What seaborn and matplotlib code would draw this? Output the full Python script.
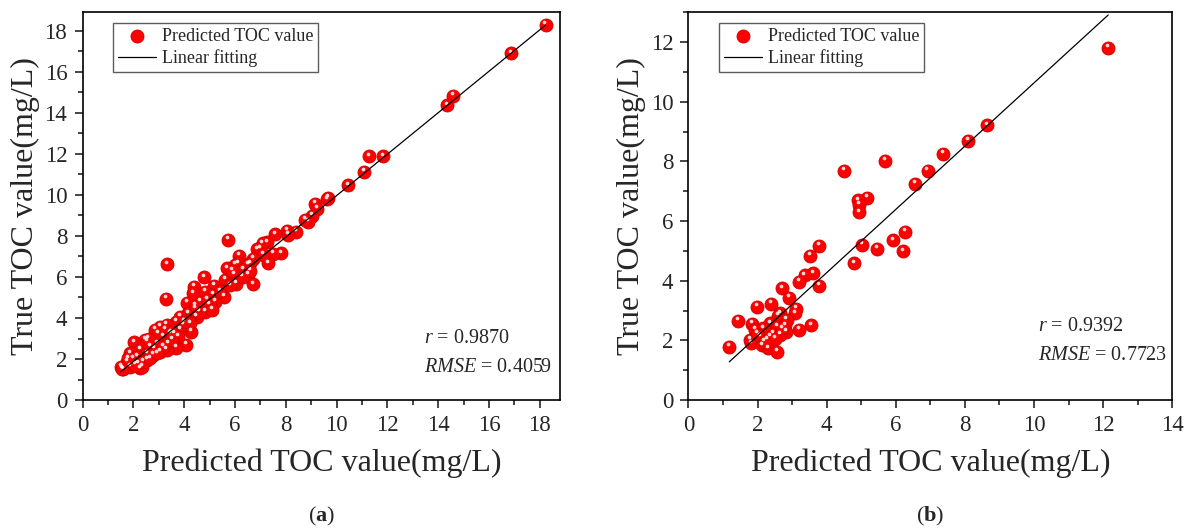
import matplotlib
matplotlib.use('Agg')
import matplotlib.pyplot as plt
import matplotlib.transforms as mtransforms
from matplotlib.ticker import MultipleLocator
import numpy as np
import pandas as pd
import seaborn as sns

# ---- data ----
pred_a = [18.23, 16.87, 14.60, 14.34, 11.82, 11.28, 11.10, 10.47, 9.68, 9.61,
          9.17, 9.25, 9.02, 8.89, 8.76, 8.41, 8.06, 8.10, 7.59, 5.73,
          7.28, 7.09, 6.86, 6.99, 7.82, 7.51, 7.32, 7.12, 6.73, 6.60,
          6.18, 6.14, 6.00, 5.69, 6.33, 6.53, 6.70, 6.04, 5.98, 5.61,
          5.57, 3.34, 3.29, 4.80, 5.19, 4.39, 4.36, 4.82, 5.15, 5.22,
          5.00, 4.63, 4.10, 4.43, 4.82, 4.17, 3.84, 4.49, 4.27, 4.23,
          4.08, 3.67, 3.62, 3.67, 3.31, 3.05, 2.85, 3.16, 3.38, 2.46,
          2.04, 2.82, 2.26, 2.53, 1.87, 2.00, 1.74, 1.50, 1.61, 1.87,
          2.26, 2.20, 2.53, 3.05, 3.31, 2.66, 2.92, 1.55, 2.33, 3.45,
          3.84, 3.97, 3.77, 3.18, 2.79, 2.53, 2.99, 3.51, 3.25, 2.60,
          2.13, 1.80, 2.07, 2.40, 2.66, 2.92, 4.60, 4.90, 5.40, 5.80,
          6.30, 6.50, 5.10, 4.00, 3.50, 4.45, 5.90, 6.60]
true_a = [18.28, 16.89, 14.83, 14.36, 11.87, 11.87, 11.11, 10.46, 9.87, 9.79,
          9.56, 9.32, 8.99, 8.70, 8.78, 8.21, 8.24, 8.05, 8.08, 7.80,
          7.69, 7.64, 7.35, 7.40, 7.15, 7.12, 6.67, 7.07, 6.88, 6.67,
          7.02, 6.67, 6.59, 6.42, 6.34, 6.10, 5.64, 5.66, 6.10, 5.85,
          5.04, 6.62, 4.93, 5.98, 5.58, 5.53, 5.20, 5.28, 5.12, 4.80,
          4.63, 4.80, 4.75, 4.47, 4.31, 4.23, 4.07, 4.07, 3.33, 3.74,
          2.68, 3.82, 3.25, 2.55, 3.66, 3.58, 3.41, 3.09, 2.76, 2.93,
          2.81, 2.52, 2.44, 2.28, 2.28, 2.03, 1.87, 1.63, 1.50, 1.63,
          1.54, 1.79, 1.95, 2.36, 2.44, 2.60, 2.76, 1.52, 1.63, 3.25,
          3.41, 3.66, 3.09, 2.60, 2.20, 2.85, 3.25, 2.93, 3.41, 3.00,
          2.11, 2.03, 1.71, 1.87, 2.03, 2.28, 4.30, 4.90, 5.30, 5.60,
          6.00, 6.60, 4.40, 3.80, 3.30, 4.60, 6.30, 6.30]

pred_b = [12.15, 8.64, 8.08, 7.37, 6.92, 6.57, 5.69, 4.49, 5.16, 4.91,
          4.94, 4.93, 6.28, 5.93, 6.22, 5.46, 5.02, 4.80, 3.77, 3.53,
          3.60, 3.36, 3.21, 3.77, 2.72, 2.92, 1.99, 2.40, 3.12, 3.09,
          2.65, 2.60, 1.43, 1.83, 3.56, 3.21, 2.84, 2.80, 2.83, 2.36,
          2.17, 1.93, 2.56, 2.46, 2.65, 2.07, 1.78, 1.81, 2.12, 2.31,
          2.57, 1.18, 2.27, 1.98, 2.36, 2.50, 2.70, 2.20]
true_b = [11.81, 9.21, 8.69, 8.25, 7.69, 7.24, 8.01, 7.68, 6.78, 6.70,
          6.54, 6.29, 5.64, 5.36, 4.99, 5.06, 5.20, 4.58, 5.16, 4.83,
          4.25, 4.18, 3.97, 3.84, 3.75, 3.43, 3.13, 3.23, 3.05, 2.91,
          2.91, 2.82, 2.66, 2.56, 2.50, 2.35, 2.70, 2.51, 2.29, 2.57,
          2.40, 2.35, 2.46, 2.23, 2.18, 2.12, 2.01, 1.90, 1.84, 1.73,
          1.62, 1.79, 2.01, 2.23, 2.12, 2.05, 2.40, 1.95]

# linear fitting lines (slope, intercept)
fit_a = (1.01, -0.14)
fit_b = (1.06, 0.03)

stats_a = ('0.9870', '0.4059')
stats_b = ('0.9392', '0.7723')
panel_labels = ['a', 'b']

sns.set_style('ticks')
plt.rcParams['font.family'] = ['Liberation Serif', 'DejaVu Serif']
plt.rcParams['mathtext.fontset'] = 'custom'
plt.rcParams['mathtext.rm'] = 'Liberation Serif'
plt.rcParams['mathtext.it'] = 'Liberation Serif:italic'
plt.rcParams['mathtext.bf'] = 'Liberation Serif:bold'

fig = plt.figure(figsize=(11.84, 5.32), dpi=100)
ax_a = fig.add_axes([0.0697, 0.248, 0.4033, 0.729])
ax_b = fig.add_axes([0.5815, 0.248, 0.4085, 0.729])


def scatter_panel(ax, pred, true, fit, stats, xlim, ylim, xmaj, ymaj, label,
                  stat_pos):
    df = pd.DataFrame({'pred': pred, 'true': true})
    sns.scatterplot(data=df, x='pred', y='true', ax=ax, color='#ff0000', s=88,
                    edgecolor='#cc0000', linewidth=0.6, zorder=3,
                    label='Predicted TOC value')
    # small highlight to mimic the glossy spheres
    hl = mtransforms.offset_copy(ax.transData, fig=fig, x=-0.8, y=1.9,
                                 units='points')
    ax.scatter(df['pred'], df['true'], s=7, color='white', alpha=0.85,
               linewidths=0, transform=hl, zorder=4)

    xs = np.array([df['pred'].min(), df['pred'].max()])
    line_df = pd.DataFrame({'x': xs, 'y': fit[0] * xs + fit[1]})
    sns.lineplot(data=line_df, x='x', y='y', ax=ax, color='black',
                 linewidth=0.9, zorder=5, label='Linear fitting')

    ax.set_xlim(*xlim)
    ax.set_ylim(*ylim)
    ax.xaxis.set_major_locator(MultipleLocator(xmaj))
    ax.xaxis.set_minor_locator(MultipleLocator(xmaj / 2))
    ax.yaxis.set_major_locator(MultipleLocator(ymaj))
    ax.yaxis.set_minor_locator(MultipleLocator(ymaj / 2))
    ax.tick_params(which='major', direction='out', length=6, width=1.2,
                   labelsize=16.5, pad=5)
    ax.tick_params(which='minor', direction='out', length=3.5, width=1.2)
    for sp in ax.spines.values():
        sp.set_visible(True)
        sp.set_linewidth(1.2)
        sp.set_color('black')

    ax.set_xlabel('Predicted TOC value(mg/L)', fontsize=23, labelpad=9)
    ax.set_ylabel('True TOC value(mg/L)', fontsize=23, labelpad=3)

    leg = ax.legend(loc='upper left', bbox_to_anchor=(0.064, 0.972),
                    borderaxespad=0, fontsize=13, frameon=True,
                    fancybox=False, handlelength=2.1, handletextpad=0.35,
                    borderpad=0.25, labelspacing=0.25)
    leg.get_frame().set_edgecolor('#333333')
    leg.get_frame().set_linewidth(1.0)

    ax.text(stat_pos[0], stat_pos[1], r'$r$ = ' + stats[0],
            transform=ax.transAxes, fontsize=14.5, va='center', ha='left')
    ax.text(stat_pos[0], stat_pos[1] - 0.075, r'$RMSE$ = ' + stats[1],
            transform=ax.transAxes, fontsize=14.5, va='center', ha='left')

    ax.text(0.5, -0.3, '(' + r'$\mathbf{' + label + '}$' + ')',
            transform=ax.transAxes, fontsize=16, ha='center', va='center')


scatter_panel(ax_a, pred_a, true_a, fit_a, stats_a, (0, 18.8), (0, 18.9),
              2, 2, panel_labels[0], (0.716, 0.16))
scatter_panel(ax_b, pred_b, true_b, fit_b, stats_b, (0, 14), (0, 13),
              2, 2, panel_labels[1], (0.722, 0.19))

fig.savefig('out.png', dpi=100)
